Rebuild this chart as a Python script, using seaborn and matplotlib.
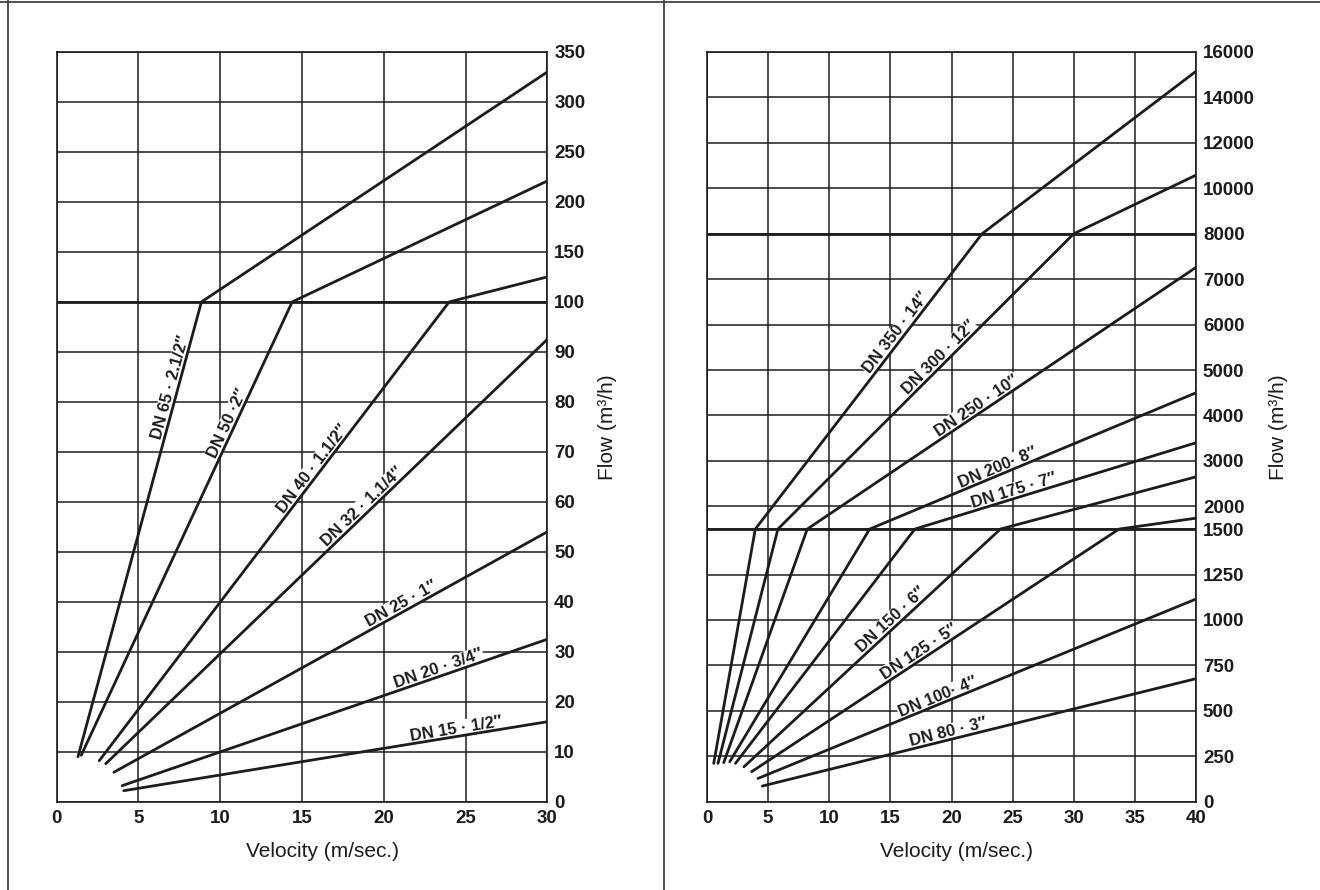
import numpy as np
import pandas as pd
import matplotlib
matplotlib.use("Agg")
import matplotlib.pyplot as plt
from matplotlib.lines import Line2D
from matplotlib.ticker import FixedLocator
import seaborn as sns

# ---------------- data ----------------
# Left chart : flow 0-350 m3/h, velocity 0-30 m/s
left_names = ["DN 65 · 2.1/2″", "DN 50 ·2″", "DN 40 · 1.1/2″", "DN 32 · 1.1/4″",
              "DN 25 · 1″", "DN 20 · 3/4″", "DN 15 · 1/2″"]
left_velocity = [[1.3, 8.85, 30], [1.5, 14.4, 30], [2.6, 24.0, 30], [3.0, 30],
                 [3.5, 30], [4.0, 30], [4.1, 30]]
left_flow = [[9.0, 100, 330], [9.3, 100, 221], [8.2, 100, 125], [7.6, 92.5],
             [5.9, 54], [3.2, 32.5], [2.2, 16]]
left_label_v = [7.4, 10.85, 16.0, 19.0, 21.3, 23.5, 24.5]
left_yticks = [0, 10, 20, 30, 40, 50, 60, 70, 80, 90, 100, 150, 200, 250, 300, 350]
left_xticks = [0, 5, 10, 15, 20, 25, 30]

# Right chart : flow 0-16000 m3/h, velocity 0-40 m/s
right_names = ["DN 350 · 14″", "DN 300 · 12″", "DN 250 · 10″", "DN 200· 8″",
               "DN 175 · 7″", "DN 150 · 6″", "DN 125 · 5″", "DN 100· 4″", "DN 80 · 3″"]
right_velocity = [[0.55, 3.95, 22.5, 40], [0.9, 5.8, 30, 40], [1.37, 8.2, 40],
                  [1.86, 13.3, 40], [2.33, 17.0, 40], [3.02, 24.0, 40],
                  [3.65, 33.7, 40], [4.17, 40], [4.52, 40]]
right_flow = [[211, 1500, 8000, 15150], [211, 1500, 8000, 10580], [215, 1500, 7260],
              [220, 1500, 4500], [211, 1500, 3400], [192, 1500, 2650],
              [165, 1500, 1740], [128, 1115], [86, 677]]
right_label_v = [16.0, 19.4, 22.4, 24.0, 25.3, 15.5, 17.7, 19.1, 19.9]
right_yticks = [0, 250, 500, 750, 1000, 1250, 1500, 2000, 3000, 4000, 5000, 6000,
                7000, 8000, 10000, 12000, 14000, 16000]
right_xticks = [0, 5, 10, 15, 20, 25, 30, 35, 40]

# ---------------- piecewise linear flow scales ----------------
def left_fwd(v):
    v = np.asarray(v, dtype=float)
    return np.where(v <= 100, v / 10.0, 10 + (v - 100) / 50.0)

def left_inv(u):
    u = np.asarray(u, dtype=float)
    return np.where(u <= 10, u * 10.0, 100 + (u - 10) * 50.0)

def right_fwd(v):
    v = np.asarray(v, dtype=float)
    return np.where(v <= 1500, v / 250.0,
                    np.where(v <= 8000, 6 + (v - 1500) / 1000.0, 12.5 + (v - 8000) / 2000.0))

def right_inv(u):
    u = np.asarray(u, dtype=float)
    return np.where(u <= 6, u * 250.0,
                    np.where(u <= 12.5, 1500 + (u - 6) * 1000.0, 8000 + (u - 12.5) * 2000.0))

# ---------------- style ----------------
sns.set_theme(style="white")
plt.rcParams["font.family"] = ["Liberation Sans", "DejaVu Sans"]
INK = "#1c1c1c"

fig = plt.figure(figsize=(13.2, 8.9), dpi=100)
fig.patch.set_facecolor("white")

axL = fig.add_axes([56.7 / 1320, (890 - 801.7) / 890, 490.6 / 1320, 749.7 / 890])
axR = fig.add_axes([707 / 1320, (890 - 801.7) / 890, 489 / 1320, 749.7 / 890])


def build_df(names, vel, flow):
    rows = []
    for n, vs, fs in zip(names, vel, flow):
        for v, f in zip(vs, fs):
            rows.append({"size": n, "velocity": v, "flow": f})
    return pd.DataFrame(rows)


def draw_panel(ax, names, vel, flow, label_v, fwd, inv, yticks, xticks, xmax, ymax,
               heavy, xlab_x, ylab_x):
    df = build_df(names, vel, flow)
    sns.lineplot(data=df, x="velocity", y="flow", units="size", estimator=None,
                 color=INK, lw=2.0, sort=False, legend=False, ax=ax, zorder=4)
    ax.set_yscale("function", functions=(fwd, inv))
    ax.set_xlim(0, xmax)
    ax.set_ylim(0, ymax)
    ax.xaxis.set_major_locator(FixedLocator(xticks))
    ax.yaxis.set_major_locator(FixedLocator(yticks))
    ax.set_xticklabels([str(t) for t in xticks])
    ax.set_yticklabels([str(t) for t in yticks])
    ax.yaxis.tick_right()
    ax.yaxis.set_label_position("right")
    ax.tick_params(axis="both", length=0, labelsize=13.5, colors=INK)
    ax.tick_params(axis="x", pad=6)
    ax.tick_params(axis="y", pad=5)
    for lab in ax.get_xticklabels() + ax.get_yticklabels():
        lab.set_fontweight("bold")
    ax.grid(True, color=INK, lw=1.1)
    ax.set_axisbelow(True)
    for h in heavy:
        ax.axhline(h, color=INK, lw=2.0, zorder=1)
    for s in ax.spines.values():
        s.set_visible(True)
        s.set_color(INK)
        s.set_linewidth(1.2)

    ax.set_xlabel("Velocity (m/sec.)", fontsize=15, color=INK)
    ax.set_ylabel("Flow (m³/h)", fontsize=15, color=INK)
    ax.xaxis.set_label_coords(xlab_x, -0.0667)
    ax.xaxis.label.set_verticalalignment("center")
    ax.yaxis.set_label_coords(ylab_x, 0.5)
    ax.yaxis.label.set_verticalalignment("center")

    # labels along the lines
    trans = ax.transData
    for n, vs, fs, lv in zip(names, vel, flow, label_v):
        pts = trans.transform(np.column_stack([vs, fs]))
        i = max(0, min(len(vs) - 2, int(np.searchsorted(vs, lv)) - 1))
        t = (lv - vs[i]) / (vs[i + 1] - vs[i])
        p = pts[i] + t * (pts[i + 1] - pts[i])
        d = pts[i + 1] - pts[i]
        ang = np.degrees(np.arctan2(d[1], d[0]))
        xd, yd = trans.inverted().transform(p)
        ax.text(xd, yd, n, rotation=ang, rotation_mode="anchor", ha="center",
                va="bottom", fontsize=12, fontweight="bold", color=INK, zorder=3,
                bbox=dict(facecolor="white", edgecolor="none", pad=0.6))


draw_panel(axL, left_names, left_velocity, left_flow, left_label_v, left_fwd, left_inv,
           left_yticks, left_xticks, 30, 350, [100], 0.541, 1.1227)
draw_panel(axR, right_names, right_velocity, right_flow, right_label_v, right_fwd, right_inv,
           right_yticks, right_xticks, 40, 16000, [1500, 8000], 0.511, 1.1677)

# page frame lines
for (x0, x1, y0, y1) in [(0, 1, 1 - 2 / 890, 1 - 2 / 890),
                         (8 / 1320, 8 / 1320, 0, 1),
                         (664 / 1320, 664 / 1320, 0, 1)]:
    fig.add_artist(Line2D([x0, x1], [y0, y1], transform=fig.transFigure,
                          color="#333333", lw=1.2))

fig.savefig("out.png", dpi=100, facecolor="white")
